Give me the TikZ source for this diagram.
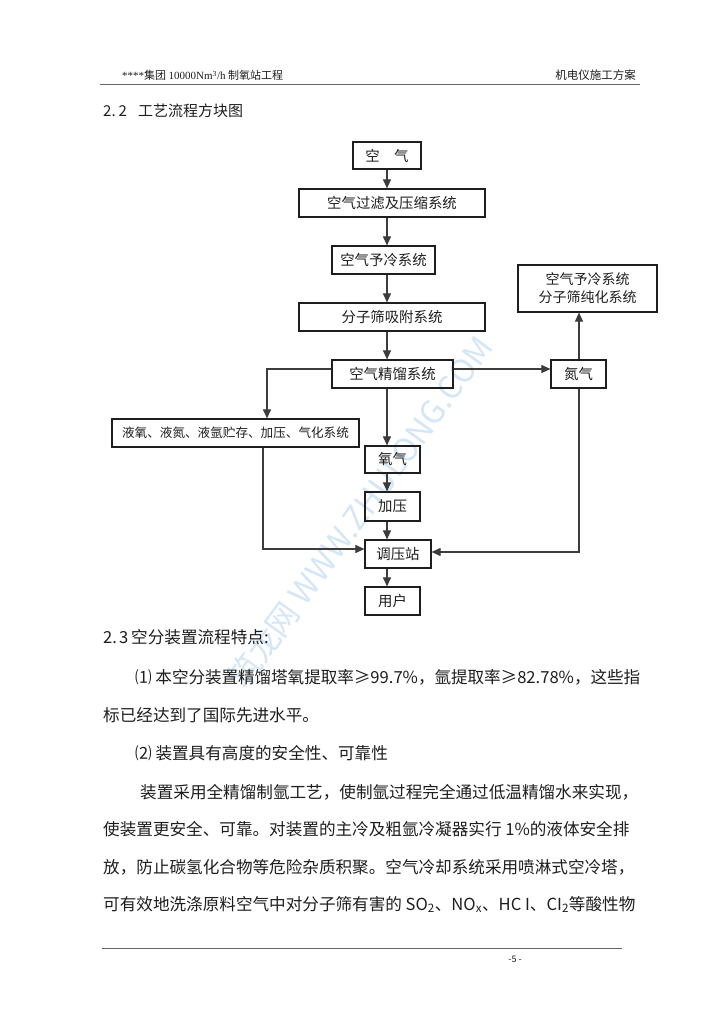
\documentclass[tikz,border=0pt]{standalone}
\usepackage{fontspec}
\setmainfont{Noto Sans CJK SC}
\newfontfamily\lser{Liberation Serif}
\usetikzlibrary{arrows.meta}
\XeTeXlinebreaklocale "zh"
\XeTeXlinebreakskip=0pt plus 1.5pt minus 2pt
\XeTeXlinebreakpenalty=10000
\definecolor{wmcol}{RGB}{150,195,235}
\definecolor{ink}{RGB}{30,30,30}
\definecolor{linec}{RGB}{60,60,60}
\begin{document}
\begin{tikzpicture}[x=1pt,y=-1pt,
  box/.style={draw=ink, line width=1.2pt, inner sep=0pt, text=ink,
    font=\fontsize{14.4}{16}\selectfont, minimum height=28pt},
  con/.style={draw=linec, line width=1.1pt},
  arr/.style={con, -{Triangle[length=9pt,width=8pt]}},
  body/.style={anchor=base west, inner sep=0pt, text=ink,
    font=\fontsize{16.6}{20}\selectfont},
  bodyj/.style={body, align=justify},
  rule/.style={draw=black!60, line width=1pt}]
\fill[white] (0,0) rectangle (724,1024);
\useasboundingbox (0,0) rectangle (724,1024);

% watermark
\node[rotate=54, text=wmcol, opacity=0.4, inner sep=0pt,
  font=\fontsize{32}{32}\selectfont] (wm) at (360,512) {筑龙网 WWW.ZHULONG.COM};

% header
\node[anchor=base west, inner sep=0pt, text=ink, font=\fontsize{11}{12}\selectfont]
  (hl) at (122,80) {{\lser ****}集团 {\lser 10000Nm\textsuperscript{3}/h} 制氧站工程};
\node[anchor=base east, inner sep=0pt, text=ink, font=\fontsize{11.5}{12}\selectfont]
  (hr) at (636,80) {机电仪施工方案};
\coordinate (h1) at (100,85);
\coordinate (h2) at (640,85);
\draw[rule] (h1) -- (h2);

\node[anchor=base west, inner sep=0pt, text=ink, font=\fontsize{15}{18}\selectfont]
  (t22) at (103,117) {2.\hspace{3pt}2\hspace{11pt}工艺流程方块图};

% flow chart
\node[box, minimum width=68pt, minimum height=27pt] (kq) at (387,155.5) {空\quad 气};
\node[box, minimum width=186pt] (gl) at (392,203) {空气过滤及压缩系统};
\node[box, minimum width=103pt] (yl) at (383.5,260) {空气予冷系统};
\node[box, minimum width=186pt] (fz) at (392,317) {分子筛吸附系统};
\node[box, minimum width=121pt] (jl) at (392.5,374) {空气精馏系统};
\node[box, minimum width=247pt, font=\fontsize{12.6}{14}\selectfont] (yy) at (235.5,433)
  {液氧、液氮、液氩贮存、加压、气化系统};
\node[box, minimum width=55pt, minimum height=27pt] (yq) at (392.5,459.5) {氧气};
\node[box, minimum width=55pt, minimum height=29pt] (jy) at (392.5,506.5) {加压};
\node[box, minimum width=66pt] (tz) at (398,554) {调压站};
\node[box, minimum width=55pt] (yh) at (392.5,601) {用户};
\node[box, minimum width=55pt] (dq) at (578.5,374) {氮气};
\node[box, minimum width=139pt, minimum height=47pt, align=center,
  font=\fontsize{14}{18}\selectfont] (rb) at (587.5,288.5) {空气予冷系统\\分子筛纯化系统};

\coordinate (mx) at (387,0);
\draw[arr] (kq.south -| mx) -- (gl.north -| mx);
\draw[arr] (gl.south -| mx) -- (yl.north -| mx);
\draw[arr] (yl.south -| mx) -- (fz.north -| mx);
\draw[arr] (fz.south -| mx) -- (jl.north -| mx);
\draw[arr] (jl.south -| mx) -- (yq.north -| mx);
\draw[arr] (yq.south -| mx) -- (jy.north -| mx);
\draw[arr] (jy.south -| mx) -- (tz.north -| mx);
\draw[arr] (tz.south -| mx) -- (yh.north -| mx);

\coordinate (lb) at (267,369);
\draw[arr] (jl.west |- lb) -- (lb) -- (yy.north -| lb);
\draw[arr] (jl.east |- lb) -- (dq.west |- lb);
\coordinate (rx) at (579,0);
\draw[arr] (dq.north -| rx) -- (rb.south -| rx);
\coordinate (rd) at (579,552);
\draw[arr] (dq.south -| rd) -- (rd) -- (tz.east |- rd);
\coordinate (ld) at (263,549);
\draw[arr] (yy.south -| ld) -- (ld) -- (tz.west |- ld);

% text
\node[body] (s23) at (103,643) {2.\hspace{2pt}3\hspace{3pt}空分装置流程特点:};
\node[bodyj, text width=505pt] (p1) at (135,683)
  {\noindent\parfillskip=0pt ⑴~本空分装置精馏塔氧提取率≥99.7\%，氩提取率≥82.78\%，这些指};
\node[body] (p2) at (103,721) {标已经达到了国际先进水平。};
\node[body] (p3) at (135,759) {⑵~装置具有高度的安全性、可靠性};
\node[bodyj, text width=500pt] (p4) at (140,798)
  {\noindent\parfillskip=0pt 装置采用全精馏制氩工艺，使制氩过程完全通过低温精馏水来实现，};
\node[bodyj, text width=537pt] (p5) at (103,835)
  {\noindent\parfillskip=0pt 使装置更安全、可靠。对装置的主冷及粗氩冷凝器实行~1\%的液体安全排};
\node[bodyj, text width=537pt] (p6) at (103,873)
  {\noindent\parfillskip=0pt 放，防止碳氢化合物等危险杂质积聚。空气冷却系统采用喷淋式空冷塔，};
\node[bodyj, text width=537pt] (p7) at (103,910)
  {\noindent\parfillskip=0pt 可有效地洗涤原料空气中对分子筛有害的~SO\textsubscript{2}、NO\textsubscript{x}、HC~I、CI\textsubscript{2}等酸性物};

% footer
\coordinate (f1) at (102,948);
\coordinate (f2) at (622,948);
\draw[rule] (f1) -- (f2);
\node[inner sep=0pt, text=ink, font=\fontsize{9}{10}\selectfont] (pg) at (515,959) {-5~-};
\end{tikzpicture}
\end{document}
